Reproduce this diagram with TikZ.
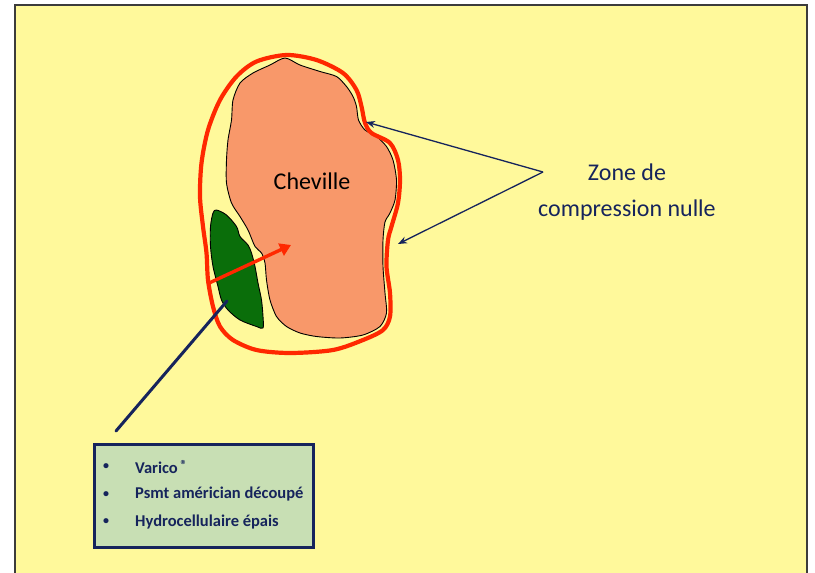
\documentclass[tikz,border=0pt]{standalone}
\usepackage{fontspec}
\setmainfont{Carlito}
\usetikzlibrary{arrows.meta}

\definecolor{pagebg}{RGB}{255,249,155}
\definecolor{framegray}{RGB}{60,60,60}
\definecolor{ankle}{RGB}{248,152,106}
\definecolor{padgreen}{RGB}{10,110,10}
\definecolor{bandred}{RGB}{255,40,0}
\definecolor{navy}{RGB}{22,36,92}
\definecolor{boxgreen}{RGB}{200,223,180}

\tikzset{
  outline/.style={draw=black, line width=0.9pt, line join=round},
  bandline/.style={draw=bandred, line width=4.2pt, line join=round},
  pointer/.style={draw=navy, line width=1.3pt, -{Stealth[length=9pt,width=7pt]}},
  leader/.style={draw=navy, line width=3pt, line cap=round},
  push/.style={draw=bandred, line width=3.4pt, -{Triangle[length=11pt,width=13pt]}},
  itemtext/.style={anchor=west, text=navy, font=\fontsize{16.5}{19}\selectfont\bfseries, inner sep=0pt},
  bullet/.style={anchor=center, text=navy, font=\fontsize{12}{14}\selectfont\bfseries, inner sep=0pt}
}

\begin{document}
\begin{tikzpicture}[x=1pt,y=-1pt]
\useasboundingbox (0,0) rectangle (815,573);
\fill[white] (0,0) rectangle (815,573);

% slide panel
\filldraw[fill=pagebg, draw=framegray, line width=1.5pt] (15,5) rectangle (807,585);

% ankle cross-section
\path[outline, fill=ankle] plot[smooth cycle, tension=0.45] coordinates {
  (285,58) (300,65) (320,71.5) (336.5,76.5) (346.5,86.5) (353,96.5) (356.5,106.5)
  (358.5,120) (365,130) (376.5,136.5) (386.5,146.5) (393,160) (396.5,180)
  (395,200) (390,213) (385,222) (383,240) (383,266.5) (385,293) (386.5,313)
  (380,326.5) (363,335) (340,338) (316.5,336.5) (300,333) (286.5,326.5)
  (276.5,316.5) (270,300) (266.5,280) (265,263) (261.5,253) (255,246.5)
  (248,230) (240,216.5) (231.5,203) (226.5,183) (226.5,160) (228,140)
  (231.5,120) (233,100) (240,83) (253,73) (270,65)};

% padding along the inner side
\path[outline, fill=padgreen] plot[smooth cycle, tension=0.5] coordinates {
  (216.5,210) (226.5,215) (236.5,226.5) (240,236.5) (248,245) (251.5,253)
  (255,266.5) (258,283) (261.5,300) (263,316.5) (263,328) (256.5,326.5)
  (240,320) (228,310) (221.5,300) (218,286.5) (213,266.5) (210.5,246.5)
  (210.5,226.5) (213,213)};

% compression band
\path[bandline] plot[smooth cycle, tension=0.5] coordinates {
  (286.5,55) (316.5,60) (343,73) (356.5,90) (361.5,106.5) (365,123)
  (371.5,133) (390,143) (398,160) (400,180) (398,203) (391.5,226.5)
  (388,240) (386.5,266.5) (390,293) (390,316.5) (383,330) (363,340)
  (333,350) (290,353) (256.5,350) (233,340) (220,326.5) (213,306.5)
  (208,280) (206.5,253) (203,226.5) (200,196.5) (201.5,163) (208,130)
  (220,100) (236.5,76.5) (256.5,61.5)};

% labels
\node (ankle) at (312,181) {\fontsize{24}{28}\selectfont Cheville};
\node (zone) [text=navy, align=center, font=\fontsize{24}{36}\selectfont] at (627,192)
  {Zone de\\compression nulle};

% arrows to the uncompressed zones
\coordinate (fork) at (543,172);
\coordinate (gapTop) at (366,122);
\coordinate (gapLow) at (398,244);
\draw[pointer] (fork) -- (gapTop);
\draw[pointer] (fork) -- (gapLow);

% pressure direction
\coordinate (pushFrom) at (207,284);
\coordinate (pushTo) at (291,245);
\draw[push] (pushFrom) -- (pushTo);

% list of dressings
\node (list) [draw=navy, line width=3pt, fill=boxgreen, minimum width=219pt,
  minimum height=103pt, inner sep=0pt] at (204,496) {};
\node (b1) [bullet] at (106,467) {•};
\node (b2) [bullet] at (106,494.5) {•};
\node (b3) [bullet] at (106,522) {•};
\node (t1) [itemtext] at (135,467) {Varico\,\raisebox{0.45ex}{\fontsize{13}{13}\selectfont ®}};
\node (t2) [itemtext] at (135,494.5) {Psmt américian découpé};
\node (t3) [itemtext] at (135,522) {Hydrocellulaire épais};

\coordinate (padSpot) at (227,301);
\draw[leader] (116,431) -- (padSpot);
\end{tikzpicture}
\end{document}
